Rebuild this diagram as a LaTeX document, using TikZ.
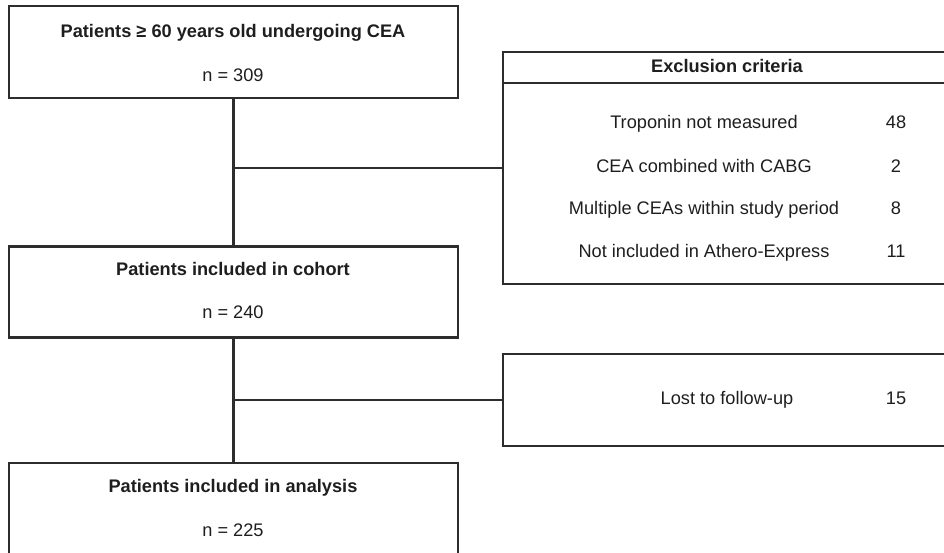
\documentclass[tikz,border=0pt]{standalone}
\usepackage{fontspec}
\setmainfont{Liberation Sans}
\usepackage{tikz}
\usetikzlibrary{positioning}
\definecolor{kaderlijn}{RGB}{45,45,45}
\definecolor{tekstgrijs}{RGB}{30,30,30}
\tikzset{
	kader/.style={draw=kaderlijn,line width=2.6pt,rectangle,inner sep=0pt},
	lijn/.style={draw=kaderlijn,line width=2.6pt},
	titel/.style={text=tekstgrijs,text height=13pt,text depth=4pt,inner sep=0pt,font=\fontsize{18.2}{22}\selectfont\bfseries},
	gewoon/.style={text=tekstgrijs,text height=13pt,text depth=4pt,inner sep=0pt,font=\fontsize{18.2}{22}\selectfont}
}

\begin{document}
\begin{tikzpicture}[x=1pt,y=-1pt]
			\useasboundingbox (0,0) rectangle (944,553);
			\clip (0,0) rectangle (944,553);
			% boxes on the left
			\node[kader,minimum width=449pt,minimum height=92pt] (start) at (233.5,52) {};
			\node[kader,minimum width=449pt,minimum height=91pt] (cohort) at (233.5,292) {};
			\node[kader,minimum width=449pt,minimum height=96pt] (analyse) at (233.5,511) {};
			\node[titel] (starttitel) at (233,33) {Patients ≥ 60 years old undergoing CEA};
			\node[gewoon] (startn) at (233,77) {n = 309};
			\node[titel] (cohorttitel) at (233,271) {Patients included in cohort};
			\node[gewoon] (cohortn) at (233,314) {n = 240};
			\node[titel] (analysetitel) at (233,488) {Patients included in analysis};
			\node[gewoon] (analysen) at (233,532) {n = 225};
			
			% boxes on the right
			\node[kader,minimum width=448pt,minimum height=232pt] (excl) at (727,168) {};
			\draw[lijn] (excl.west |- 0,83) -- (excl.east |- 0,83);
			\node[titel] (excltitel) at (727,68) {Exclusion criteria};
			\node[gewoon] (ex1) at (704,124) {Troponin not measured};
			\node[gewoon] (ex1n) at (896,124) {48};
			\node[gewoon] (ex2) at (704,168) {CEA combined with CABG};
			\node[gewoon] (ex2n) at (896,168) {2};
			\node[gewoon] (ex3) at (704,210) {Multiple CEAs within study period};
			\node[gewoon] (ex3n) at (896,210) {8};
			\node[gewoon] (ex4) at (704,253) {Not included in Athero-Express};
			\node[gewoon] (ex4n) at (896,253) {11};
			\node[kader,minimum width=448pt,minimum height=92pt] (lost) at (727,400) {};
			\node[gewoon] (losttekst) at (727,400) {Lost to follow-up};
			\node[gewoon] (lostn) at (896,400) {15};
			
			% connectors
			\draw[lijn] (start.south) -- (cohort.north);
			\draw[lijn] (start.south |- excl.west) -- (excl.west);
			\draw[lijn] (cohort.south) -- (analyse.north);
			\draw[lijn] (cohort.south |- lost.west) -- (lost.west);
\end{tikzpicture}
\end{document}
